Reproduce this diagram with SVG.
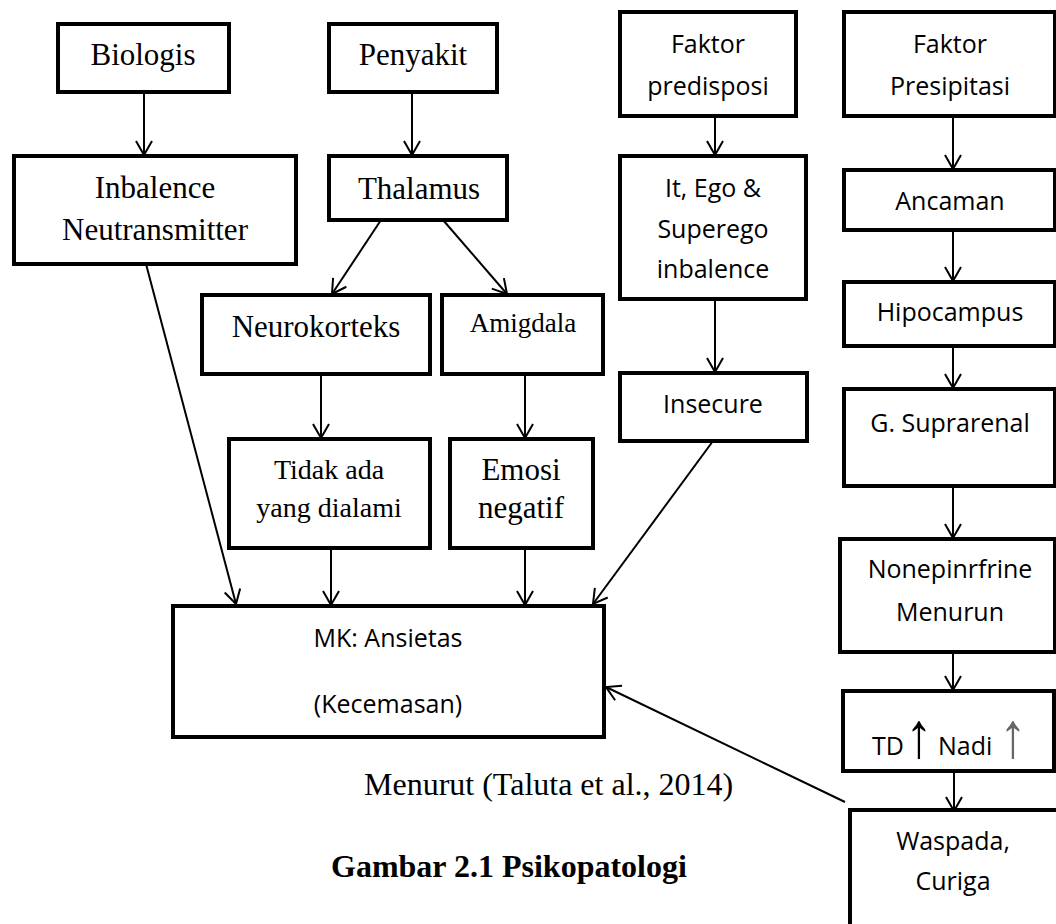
<svg xmlns="http://www.w3.org/2000/svg" width="1056" height="924" viewBox="0 0 1056 924">
<style>
.box{fill:#fff;stroke:#000;stroke-width:4;stroke-linejoin:miter}
.serif{font-family:"Liberation Serif","Times New Roman",serif;font-size:31px;fill:#000;text-anchor:middle}
.sans{font-family:"Open Sans","Noto Sans",sans-serif;font-size:25px;fill:#000;text-anchor:middle}
.up{font-family:"Liberation Sans",Arial,sans-serif;font-size:64px;text-anchor:middle}
.conn line{stroke:#000;stroke-width:2;fill:none;marker-end:url(#arr)}
</style>
<defs>
<marker id="arr" viewBox="0 0 16 18" refX="15" refY="9" markerWidth="16" markerHeight="18" orient="auto" markerUnits="userSpaceOnUse">
<path d="M1,1 L15,9 L1,17" fill="none" stroke="#000" stroke-width="2"/>
</marker>
</defs>
<rect width="1056" height="924" fill="#fff"/>
<g class="conn" id="connectors">
<line x1="144" y1="92" x2="144" y2="155"/>
<line x1="412" y1="92" x2="412" y2="155"/>
<line x1="381" y1="220" x2="332" y2="294"/>
<line x1="443" y1="220" x2="507" y2="294"/>
<line x1="321" y1="374" x2="321" y2="438"/>
<line x1="525" y1="374" x2="525" y2="438"/>
<line x1="331" y1="548" x2="331" y2="605"/>
<line x1="525" y1="548" x2="525" y2="605"/>
<line x1="146" y1="264" x2="236" y2="604"/>
<line x1="715" y1="116" x2="715" y2="155"/>
<line x1="715" y1="299" x2="715" y2="372"/>
<line x1="713" y1="441" x2="593" y2="604"/>
<line x1="953" y1="116" x2="953" y2="169"/>
<line x1="953" y1="230" x2="953" y2="281"/>
<line x1="953" y1="346" x2="953" y2="388"/>
<line x1="953" y1="486" x2="953" y2="538"/>
<line x1="953" y1="652" x2="953" y2="690"/>
<line x1="954" y1="768" x2="954" y2="811"/>
<line x1="845" y1="802" x2="606" y2="687"/>
</g>
<g id="biologis"><rect class="box" x="58" y="24" width="171" height="68"/><text class="serif" x="143" y="65">Biologis</text></g>
<g id="penyakit"><rect class="box" x="329" y="24" width="168" height="68"/><text class="serif" x="413" y="65">Penyakit</text></g>
<g id="inbalence"><rect class="box" x="14" y="156" width="282" height="108"/><text class="serif" x="155" y="198">Inbalence</text><text class="serif" x="155" y="240">Neutransmitter</text></g>
<g id="thalamus"><rect class="box" x="329" y="156" width="178" height="64"/><text class="serif" x="419" y="199">Thalamus</text></g>
<g id="neurokorteks"><rect class="box" x="202" y="295" width="228" height="79"/><text class="serif" x="316" y="337">Neurokorteks</text></g>
<g id="amigdala"><rect class="box" x="442" y="295" width="161" height="79"/><text class="serif" x="523" y="332" style="font-size:27px">Amigdala</text></g>
<g id="tidak"><rect class="box" x="229" y="439" width="201" height="109"/><text class="serif" x="329" y="479" style="font-size:28px">Tidak ada</text><text class="serif" x="329" y="517" style="font-size:28px">yang dialami</text></g>
<g id="emosi"><rect class="box" x="450" y="439" width="143" height="109"/><text class="serif" x="521" y="480">Emosi</text><text class="serif" x="521" y="518">negatif</text></g>
<g id="mk"><rect class="box" x="173" y="606" width="431" height="131"/><text class="sans" x="388" y="647">MK: Ansietas</text><text class="sans" x="388" y="713">(Kecemasan)</text></g>
<g id="faktor-predisposi"><rect class="box" x="620" y="12" width="176" height="104"/><text class="sans" x="708" y="53">Faktor</text><text class="sans" x="708" y="95">predisposi</text></g>
<g id="itego"><rect class="box" x="620" y="156" width="186" height="143"/><text class="sans" x="713" y="197">It, Ego &amp;</text><text class="sans" x="713" y="238">Superego</text><text class="sans" x="713" y="278">inbalence</text></g>
<g id="insecure"><rect class="box" x="620" y="373" width="187" height="68"/><text class="sans" x="713" y="413">Insecure</text></g>
<g id="faktor-presipitasi"><rect class="box" x="844" y="12" width="211" height="104"/><text class="sans" x="950" y="53">Faktor</text><text class="sans" x="950" y="95">Presipitasi</text></g>
<g id="ancaman"><rect class="box" x="844" y="170" width="211" height="60"/><text class="sans" x="950" y="210">Ancaman</text></g>
<g id="hipocampus"><rect class="box" x="844" y="282" width="211" height="64"/><text class="sans" x="950" y="321">Hipocampus</text></g>
<g id="suprarenal"><rect class="box" x="844" y="389" width="211" height="97"/><text class="sans" x="950" y="432">G. Suprarenal</text></g>
<g id="nonepinrfrine"><rect class="box" x="840" y="539" width="215" height="113"/><text class="sans" x="950" y="578">Nonepinrfrine</text><text class="sans" x="950" y="621">Menurun</text></g>
<g id="td"><rect class="box" x="843" y="691" width="211" height="80"/>
<text class="sans" x="872" y="755" style="text-anchor:start">TD</text>
<text class="up" transform="translate(919,757) scale(0.85,1)">↑</text>
<text class="sans" x="938" y="755" style="text-anchor:start">Nadi</text>
<text class="up" transform="translate(1013,757) scale(0.85,1)" fill="#666">↑</text>
</g>
<g id="waspada"><rect class="box" x="850" y="810" width="220" height="130"/><text class="sans" x="953" y="850">Waspada,</text><text class="sans" x="953" y="890">Curiga</text></g>
<g id="caption">
<text class="serif" x="364" y="795" style="text-anchor:start;font-size:32px">Menurut (Taluta et al., 2014)</text>
<text class="serif" x="331" y="877" style="text-anchor:start;font-weight:bold;font-size:32px">Gambar 2.1 Psikopatologi</text>
</g>
</svg>
